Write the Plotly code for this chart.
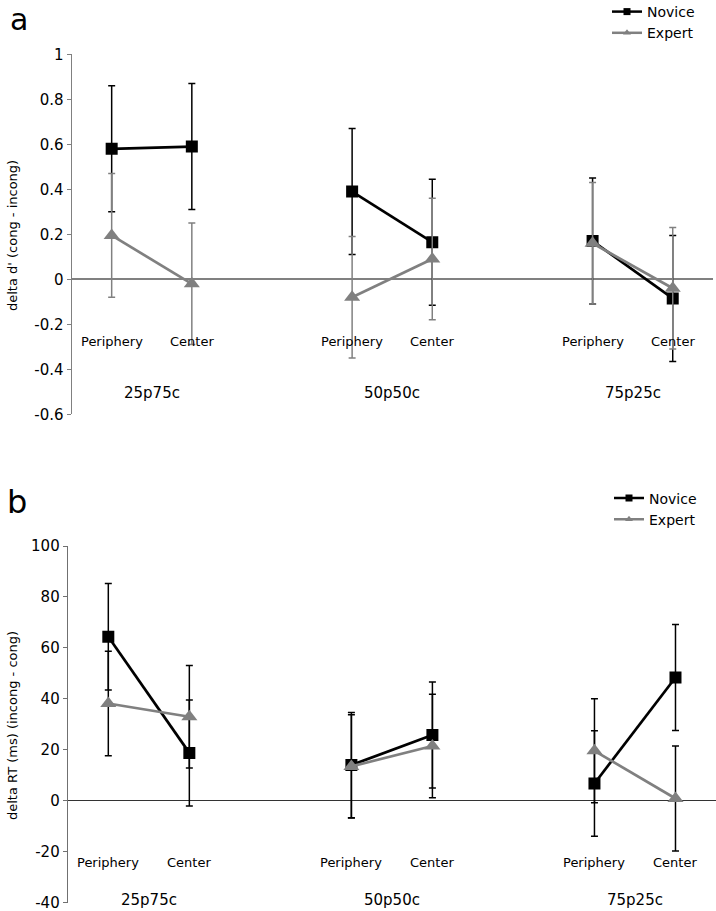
import plotly.graph_objects as go

# ---- data ----
groups = ["25p75c", "50p50c", "75p25c"]
locations = ["Periphery", "Center"]
series = ["Novice", "Expert"]

d_novice = [0.58, 0.59, 0.39, 0.165, 0.17, -0.085]
d_novice_err = [0.28, 0.28, 0.28, 0.28, 0.28, 0.28]
d_expert = [0.195, -0.02, -0.08, 0.09, 0.16, -0.04]
d_expert_err = [0.275, 0.27, 0.27, 0.27, 0.27, 0.27]

rt_novice = [64.4, 18.8, 14.0, 25.8, 6.8, 48.4]
rt_novice_err = [20.9, 20.8, 20.7, 20.8, 20.7, 20.8]
rt_expert = [38.2, 33.0, 13.5, 21.5, 19.6, 0.9]
rt_expert_err = [20.5, 20.1, 20.3, 20.3, 20.4, 20.6]

d_ticks = [1, 0.8, 0.6, 0.4, 0.2, 0, -0.2, -0.4, -0.6]
d_ticktext = ["1", "0.8", "0.6", "0.4", "0.2", "0", "-0.2", "-0.4", "-0.6"]
rt_ticks = [100, 80, 60, 40, 20, 0, -20, -40]
rt_ticktext = ["100", "80", "60", "40", "20", "0", "-20", "-40"]

FONT = "DejaVu Sans"
BLACK = "#000000"
GREY = "#808080"

# category slots: each group has 2 locations + 1 empty slot between groups
def slot_positions():
    xs = []
    for gi in range(len(groups)):
        for li in range(len(locations)):
            xs.append(gi * (len(locations) + 1) + li)
    return xs

XS = slot_positions()

def gapped(vals):
    out = []
    for gi in range(len(groups)):
        if gi > 0:
            out.append(None)
        out.extend(vals[gi * len(locations):(gi + 1) * len(locations)])
    return out

fig = go.Figure()

def add_series(y, err, color, symbol, size, errcolor, xa, ya):
    fig.add_trace(go.Scatter(
        x=gapped(XS), y=gapped(y), xaxis=xa, yaxis=ya,
        mode="lines+markers", showlegend=False,
        line=dict(color=color, width=2.7),
        marker=dict(symbol=symbol, size=size, color=color),
        error_y=dict(type="data", array=gapped(err), color=errcolor,
                     thickness=1.5, width=3.5),
        connectgaps=False,
    ))

# top panel
add_series(d_novice, d_novice_err, BLACK, "square", 12, BLACK, "x", "y")
add_series(d_expert, d_expert_err, GREY, "triangle-up", 14, GREY, "x", "y")
# bottom panel
add_series(rt_novice, rt_novice_err, BLACK, "square", 12, BLACK, "x2", "y2")
add_series(rt_expert, rt_expert_err, GREY, "triangle-up", 14, BLACK, "x2", "y2")

# legend-only traces
for lg, xa, ya in [("legend", "x", "y"), ("legend2", "x2", "y2")]:
    fig.add_trace(go.Scatter(x=[None], y=[None], xaxis=xa, yaxis=ya, name=series[0],
                             mode="lines+markers", legend=lg,
                             line=dict(color=BLACK, width=2.5),
                             marker=dict(symbol="square", size=7, color=BLACK)))
    fig.add_trace(go.Scatter(x=[None], y=[None], xaxis=xa, yaxis=ya, name=series[1],
                             mode="lines+markers", legend=lg,
                             line=dict(color=GREY, width=2.5),
                             marker=dict(symbol="triangle-up", size=7, color=GREY)))

W, H = 716, 911
annotations = []

# category & group labels
def add_labels(xref, yref, loc_y, grp_y):
    for i, x in enumerate(XS):
        annotations.append(dict(x=x, y=loc_y, xref=xref, yref=yref,
                                xanchor="center", yanchor="middle",
                                text=locations[i % len(locations)], showarrow=False,
                                font=dict(family=FONT, size=13, color=BLACK)))
    for gi, g in enumerate(groups):
        xc = (XS[gi * 2] + XS[gi * 2 + 1]) / 2
        annotations.append(dict(x=xc, y=grp_y, xref=xref, yref=yref, text=g,
                                xanchor="center", yanchor="middle",
                                showarrow=False,
                                font=dict(family=FONT, size=15, color=BLACK)))

add_labels("x", "y", -0.277, -0.505)
add_labels("x2", "y2", -24.3, -39.0)

# axis titles
annotations.append(dict(x=12 / W, y=1 - 236 / H, xref="paper", yref="paper",
                        xanchor="center", yanchor="middle",
                        text="delta d' (cong - incong)", textangle=-90, showarrow=False,
                        font=dict(family=FONT, size=13, color=BLACK)))
annotations.append(dict(x=12 / W, y=1 - 726 / H, xref="paper", yref="paper",
                        xanchor="center", yanchor="middle",
                        text="delta RT (ms) (incong - cong)", textangle=-90, showarrow=False,
                        font=dict(family=FONT, size=13, color=BLACK)))
# panel letters
annotations.append(dict(x=19 / W, y=1.0, xref="paper", yref="paper", text="a",
                        xanchor="center", yanchor="top",
                        showarrow=False, font=dict(family=FONT, size=30, color=BLACK)))
annotations.append(dict(x=17 / W, y=1 - 502 / H, xref="paper", yref="paper", text="b",
                        xanchor="center", yanchor="middle",
                        showarrow=False, font=dict(family=FONT, size=32, color=BLACK)))

xcommon = dict(range=[-0.5, 7.5], showgrid=False, zeroline=False, showline=False,
               showticklabels=False, ticks="", fixedrange=True, automargin=False)

fig.update_layout(
    width=W, height=H,
    margin=dict(l=0, r=0, t=0, b=0, autoexpand=False),
    paper_bgcolor="white", plot_bgcolor="white",
    font=dict(family=FONT, size=14, color=BLACK),
    xaxis=dict(domain=[71.6 / W, 712.8 / W], anchor="y", **xcommon),
    yaxis=dict(domain=[1 - 414.3 / H, 1 - 54.3 / H], anchor="x", range=[-0.6, 1],
               tickvals=d_ticks, ticktext=d_ticktext, showgrid=False, automargin=False,
               showline=True, linecolor=GREY, linewidth=1.2,
               ticks="outside", ticklen=4, tickcolor=GREY, tickwidth=1.2,
               zeroline=True, zerolinecolor=GREY, zerolinewidth=1.5,
               ticklabeloverflow="allow",
               tickfont=dict(family=FONT, size=15, color=BLACK)),
    xaxis2=dict(domain=[67.8 / W, 1.0], anchor="y2", **xcommon),
    yaxis2=dict(domain=[1 - 902.7 / H, 1 - 546 / H], anchor="x2", range=[-40, 100],
                tickvals=rt_ticks, ticktext=rt_ticktext, showgrid=False, automargin=False,
                showline=True, linecolor="#707070", linewidth=1.2,
                ticks="outside", ticklen=4, tickcolor="#707070", tickwidth=1.2,
                zeroline=True, zerolinecolor="#333333", zerolinewidth=1,
                ticklabeloverflow="allow",
                tickfont=dict(family=FONT, size=15, color=BLACK)),
    legend=dict(x=607 / W, y=1 + 4 / H, xanchor="left", yanchor="top",
                bgcolor="rgba(0,0,0,0)", font=dict(family=FONT, size=14, color=BLACK),
                itemsizing="trace", tracegroupgap=0),
    legend2=dict(x=609 / W, y=1 - 482.5 / H, xanchor="left", yanchor="top",
                 bgcolor="rgba(0,0,0,0)", font=dict(family=FONT, size=14, color=BLACK),
                 itemsizing="trace", tracegroupgap=0),
    annotations=annotations,
)

fig.write_html("out.html", config={"displayModeBar": False},
               post_script="document.body.style.margin='0';")
